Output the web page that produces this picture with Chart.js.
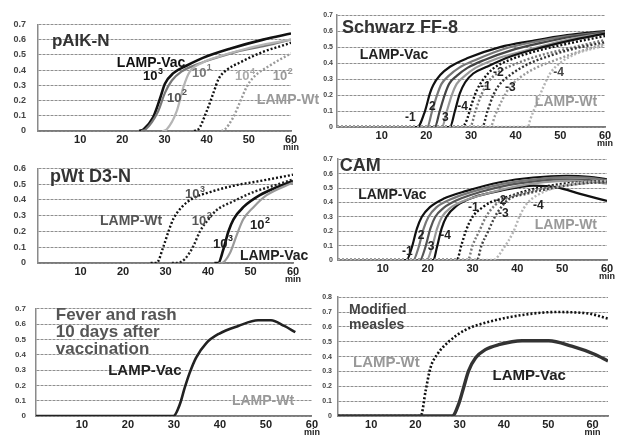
<!DOCTYPE html>
<html>
<head>
<meta charset="utf-8">
<script src="https://cdn.jsdelivr.net/npm/chart.js@4.4.0/dist/chart.umd.min.js"></script>
<style>
  body { margin: 0; background: #fff; }
  #wrap { position: relative; width: 617px; height: 439px; overflow: hidden; background: #fff; }
  canvas { position: absolute; }
</style>
</head>
<body>
<div id="wrap">
  <canvas id="p1" width="320" height="146" style="left:0;top:7px"></canvas>
  <canvas id="p2" width="312" height="145" style="left:305px;top:7px"></canvas>
  <canvas id="p3" width="320" height="139" style="left:0;top:151px"></canvas>
  <canvas id="p4" width="312" height="140" style="left:305px;top:150px"></canvas>
  <canvas id="p5" width="320" height="145" style="left:0;top:294px"></canvas>
  <canvas id="p6" width="312" height="152" style="left:305px;top:287px"></canvas>
</div>
<script>
// tick values
const xTicks = [10, 20, 30, 40, 50, 60];
const yTicks6 = [0, 0.1, 0.2, 0.3, 0.4, 0.5, 0.6];
const yTicks7 = [0, 0.1, 0.2, 0.3, 0.4, 0.5, 0.6, 0.7];
const yTicks8 = [0, 0.1, 0.2, 0.3, 0.4, 0.5, 0.6, 0.7, 0.8];

// pAIK-N  [min, turbidity]
const aikVac3 = [[24,0],[25,0.01],[27.3,0.09],[28.9,0.21],[30.1,0.31],[32.1,0.38],[35.3,0.43],[39.1,0.48],[45.5,0.54],[53.4,0.6],[60,0.64]];
const aikVac2 = [[24.5,0],[25.5,0.01],[28.5,0.13],[30.1,0.25],[31.7,0.33],[34,0.39],[37,0.43],[41,0.47],[47,0.52],[54,0.56],[60,0.6]];
const aikVac1 = [[29.5,0],[30.5,0.01],[32.9,0.13],[34.5,0.29],[36,0.39],[39.1,0.45],[43,0.49],[48,0.53],[54,0.57],[60,0.6]];
const aikWt4 = [[37,0],[38,0.01],[40,0.13],[41.6,0.25],[42.8,0.34],[44.7,0.4],[47.9,0.45],[53.4,0.52],[59,0.57],[60,0.58]];
const aikWt2 = [[43.5,0],[44.3,0.01],[46.3,0.09],[47.9,0.19],[49.5,0.29],[51,0.35],[55,0.43],[60,0.51]];

// Schwarz FF-8
const sfVac1 = [[17,0],[18,0],[19.7,0.1],[20.8,0.21],[21.5,0.26],[23.1,0.325],[25.3,0.377],[29.1,0.43],[36.5,0.5],[43.9,0.54],[51.5,0.575],[60,0.6]];
const sfVac2 = [[19,0],[20.2,0],[21.3,0.1],[22.4,0.2],[23.4,0.27],[25,0.32],[27.3,0.37],[31,0.42],[37.5,0.49],[44.5,0.535],[52,0.57],[60,0.595]];
const sfVac3 = [[21,0],[21.9,0],[23,0.1],[24.1,0.2],[25.1,0.27],[26.8,0.32],[29.2,0.37],[33,0.42],[39,0.48],[45.5,0.525],[52.5,0.565],[60,0.59]];
const sfVac4 = [[22.5,0],[23.5,0],[24.6,0.1],[25.7,0.2],[26.8,0.27],[28.6,0.32],[31,0.37],[35,0.42],[41,0.47],[47,0.515],[53,0.555],[60,0.587]];
const sfVac5 = [[24.5,0],[25.3,0],[26.4,0.1],[27.5,0.21],[28.7,0.28],[30.5,0.335],[33.5,0.377],[38.7,0.44],[46.1,0.5],[53.7,0.55],[60,0.585]];
const sfWt1 = [[0,0],[28,0],[29,0.04],[30.2,0.148],[31.3,0.23],[32.8,0.3],[35,0.367],[38.7,0.42],[43.9,0.47],[51.4,0.52],[60,0.57]];
const sfWt2 = [[0,0],[29.8,0],[31,0.1],[32.3,0.2],[33.8,0.28],[36,0.34],[39.5,0.39],[44.5,0.44],[51.5,0.49],[60,0.545]];
const sfWt3 = [[0,0],[32.5,0],[33.7,0.1],[35,0.2],[36.5,0.27],[39,0.33],[42.5,0.39],[47,0.44],[53,0.49],[60,0.53]];
const sfWt4 = [[0,0],[34.3,0],[35.5,0.08],[37,0.17],[38.7,0.25],[41,0.31],[44.5,0.37],[49,0.42],[54,0.47],[60,0.52]];
const sfWt5 = [[0,0],[42.8,0],[43.2,0.04],[44.7,0.148],[46.2,0.25],[47.7,0.335],[49.9,0.4],[53.7,0.46],[60,0.51]];

// pWt D3-N
const d3Wt3 = [[26.5,0],[27.9,0],[29.5,0.104],[30.7,0.2],[31.8,0.277],[33.8,0.354],[36.5,0.41],[40.5,0.45],[46,0.49],[52.2,0.52],[60,0.56]];
const d3Wt2 = [[31.5,0],[32.6,0],[34.6,0.027],[36.5,0.104],[38.1,0.2],[40.1,0.277],[42,0.335],[46,0.392],[50.7,0.45],[55.4,0.49],[60,0.53]];
const d3Vac3 = [[41.5,0],[42.4,0],[43.6,0.085],[44.8,0.2],[46,0.277],[48.3,0.354],[52.2,0.43],[56.2,0.48],[60,0.52]];
const d3Vac2 = [[42.5,0],[43.2,0],[45.2,0.065],[46.8,0.18],[48.3,0.277],[50.7,0.354],[53.8,0.43],[60,0.51]];

// CAM
const camVac1 = [[14.5,0],[15.3,0],[16.4,0.08],[17.6,0.218],[18.7,0.3],[20.5,0.367],[23.5,0.425],[28.7,0.48],[36.1,0.54],[43.6,0.573],[51,0.585],[56,0.578],[60,0.56]];
const camVac2 = [[16,0],[16.8,0],[17.9,0.08],[19.1,0.218],[20.2,0.3],[22,0.367],[25,0.42],[30,0.475],[37,0.53],[44,0.56],[51,0.575],[56,0.57],[60,0.555]];
const camVac3 = [[17.5,0],[18.3,0],[19.4,0.08],[20.6,0.218],[21.7,0.3],[23.5,0.36],[26.5,0.415],[31.5,0.47],[38,0.52],[45,0.55],[51,0.56],[56,0.555],[60,0.54]];
const camVac4 = [[19,0],[19.8,0],[20.9,0.08],[22.1,0.218],[23.2,0.3],[25,0.36],[28,0.41],[33,0.46],[39.5,0.51],[46,0.54],[52,0.55],[56,0.545],[60,0.53]];
const camVac5 = [[20.5,0],[21.3,0],[22,0.08],[23.1,0.218],[24.2,0.3],[26.5,0.378],[30.2,0.435],[36.1,0.48],[43.6,0.516],[48.8,0.504],[54,0.459],[60,0.41]];
const camWt1 = [[0,0],[26.5,0],[27.5,0.1],[28.5,0.2],[30,0.3],[32,0.36],[34,0.4],[37,0.43],[42,0.48],[48,0.52],[54,0.54],[60,0.55]];
const camWt2 = [[0,0],[29,0],[30,0.1],[31.5,0.2],[33,0.3],[35,0.38],[37,0.42],[42,0.47],[48,0.51],[54,0.53],[60,0.55]];
const camWt3 = [[0,0],[31,0],[32,0.1],[33.5,0.2],[35,0.3],[36.5,0.37],[38,0.42],[42,0.46],[48,0.5],[54,0.53],[60,0.54]];
const camWt4 = [[0,0],[34.6,0],[36.9,0.08],[39.1,0.195],[40.6,0.31],[42.1,0.39],[44.3,0.447],[48.8,0.505],[54.7,0.54],[60,0.55]];

// Fever and rash 10 days after vaccination
const feverVac = [[0,0],[29.9,0],[31.3,0.078],[32.3,0.18],[33.4,0.28],[34.8,0.38],[37,0.475],[39.8,0.537],[44,0.588],[48.3,0.625],[51.1,0.625],[54,0.588],[56.4,0.547]];

// Modified measles
const measWt = [[2.5,0],[21.2,0],[22.3,0.17],[23.4,0.326],[24.9,0.414],[27.5,0.5],[31.3,0.58],[36.6,0.634],[44.1,0.68],[51.6,0.7],[59.1,0.69],[63.5,0.656]];
const measVac = [[2.5,0],[28.3,0],[29.8,0.084],[30.9,0.194],[32,0.304],[33.6,0.392],[35.8,0.447],[38.8,0.48],[44.1,0.507],[50.1,0.507],[55.3,0.47],[60.6,0.414],[63.5,0.37]];

const FONT = '"Liberation Sans", Arial, sans-serif';

const notesPlugin = {
  id: 'notes',
  afterDatasetsDraw(chart, args, opts) {
    const { ctx, chartArea } = chart;
    const xs = chart.scales.x, ys = chart.scales.y;
    ctx.save();
    ctx.textBaseline = 'middle';
    ctx.textAlign = 'left';
    (opts.items || []).forEach(n => {
      const px = xs.getPixelForValue(n.x);
      const py = ys.getPixelForValue(n.y);
      ctx.fillStyle = n.color || '#222';
      ctx.font = 'bold ' + n.size + 'px ' + FONT;
      ctx.fillText(n.text, px, py);
      if (n.sup) {
        const w = ctx.measureText(n.text).width;
        ctx.font = 'bold ' + Math.round(n.size * 0.72) + 'px ' + FONT;
        ctx.fillText(n.sup, px + w + 0.5, py - n.size * 0.42);
      }
    });
    // "min" under the 60 tick
    ctx.textAlign = 'center';
    ctx.fillStyle = '#222';
    ctx.font = 'bold 9px ' + FONT;
    ctx.fillText('min', xs.getPixelForValue(60), chartArea.bottom + (opts.minOffset || 17));
    ctx.restore();
  }
};

function line(data, color, dotted, width) {
  return {
    data: data.map(p => ({ x: p[0], y: p[1] })),
    borderColor: color,
    borderWidth: width || (dotted ? 2.4 : 2.2),
    borderDash: dotted ? [2, 2] : [],
    borderCapStyle: 'butt',
    pointRadius: 0,
    fill: false,
    cubicInterpolationMode: 'monotone'
  };
}

function makePanel(id, p) {
  new Chart(document.getElementById(id), {
    type: 'line',
    data: { datasets: p.series },
    plugins: [notesPlugin],
    options: {
      responsive: false,
      animation: false,
      events: [],
      layout: { padding: { top: 8, right: p.padRight, left: 0, bottom: 0 } },
      plugins: {
        legend: { display: false },
        tooltip: { enabled: false },
        notes: { items: p.notes }
      },
      scales: {
        x: {
          type: 'linear',
          min: p.xMin,
          max: p.xMax,
          afterBuildTicks: s => { s.ticks = xTicks.filter(v => v <= p.xMax).map(v => ({ value: v })); },
          afterFit: s => { s.height = p.xHeight; },
          grid: { display: false, drawTicks: false },
          border: { display: true, color: '#7a7a7a', width: 1.8 },
          ticks: { padding: 2, maxRotation: 0, autoSkip: false, color: '#222', font: { family: FONT, size: 11, weight: 'bold' } }
        },
        y: {
          min: 0,
          max: p.yTicks[p.yTicks.length - 1],
          afterBuildTicks: s => { s.ticks = p.yTicks.map(v => ({ value: v })); },
          afterFit: s => { s.width = p.yWidth; },
          grid: { color: '#8f8f8f', lineWidth: 1, drawTicks: false },
          border: { display: true, color: '#8a8a8a', width: 1.5, dash: [3, 1] },
          ticks: {
            padding: p.yPad,
            color: '#444',
            font: { family: FONT, size: p.ySize, weight: 'bold' },
            callback: v => (v === 0 ? '0' : v.toFixed(1))
          }
        }
      }
    }
  });
}

const gray = '#9a9a9a', mid = '#777', light = '#b5b5b5', dark = '#222';

makePanel('p1', {
  xMin: 0, xMax: 60, yTicks: yTicks7, yWidth: 38, yPad: 12, ySize: 9, xHeight: 22, padRight: 29,
  series: [
    line(aikVac1, light), line(aikVac2, mid), line(aikVac3, '#111', false, 2.6),
    line(aikWt2, gray, true), line(aikWt4, '#111', true)
  ],
  notes: [
    { text: 'pAIK-N', x: 3.3, y: 0.59, size: 17, color: '#333' },
    { text: 'LAMP-Vac', x: 18.7, y: 0.447, size: 14, color: '#111' },
    { text: '10', sup: '3', x: 24.9, y: 0.356, size: 13, color: '#111' },
    { text: '10', sup: '2', x: 30.6, y: 0.217, size: 13, color: '#555' },
    { text: '10', sup: '1', x: 36.5, y: 0.38, size: 13, color: '#777' },
    { text: '10', sup: '4', x: 46.7, y: 0.356, size: 13, color: '#aaa' },
    { text: '10', sup: '2', x: 55.7, y: 0.356, size: 13, color: '#999' },
    { text: 'LAMP-Wt', x: 51.9, y: 0.2, size: 14, color: '#999' }
  ]
});

makePanel('p2', {
  xMin: 0, xMax: 60, yTicks: yTicks7, yWidth: 32, yPad: 4, ySize: 7, xHeight: 25, padRight: 12,
  series: [
    line(sfWt5, light, true), line(sfWt4, gray, true), line(sfWt3, '#333', true), line(sfWt2, mid, true), line(sfWt1, '#111', true),
    line(sfVac5, '#111'), line(sfVac4, gray), line(sfVac3, '#444'), line(sfVac2, mid), line(sfVac1, '#111')
  ],
  notes: [
    { text: 'Schwarz FF-8', x: 1.1, y: 0.62, size: 18, color: '#333' },
    { text: 'LAMP-Vac', x: 5.1, y: 0.45, size: 14, color: '#222' },
    { text: '-1', x: 15.2, y: 0.06, size: 12, color: dark },
    { text: '2', x: 20.6, y: 0.125, size: 12, color: dark },
    { text: '3', x: 23.5, y: 0.06, size: 12, color: dark },
    { text: '-4', x: 26.9, y: 0.125, size: 12, color: dark },
    { text: '-1', x: 32, y: 0.25, size: 12, color: dark },
    { text: '-2', x: 34.9, y: 0.34, size: 12, color: dark },
    { text: '-3', x: 37.6, y: 0.245, size: 12, color: dark },
    { text: '-4', x: 48.4, y: 0.34, size: 12, color: '#444' },
    { text: 'LAMP-Wt', x: 44.3, y: 0.156, size: 14, color: '#999' }
  ]
});

makePanel('p3', {
  xMin: 0, xMax: 60, yTicks: yTicks6, yWidth: 38, yPad: 12, ySize: 9, xHeight: 27, padRight: 27,
  series: [
    line(d3Wt2, '#222', true), line(d3Wt3, '#111', true),
    line(d3Vac2, gray), line(d3Vac3, '#111', false, 2.6)
  ],
  notes: [
    { text: 'pWt D3-N', x: 2.8, y: 0.548, size: 18, color: '#333' },
    { text: 'LAMP-Wt', x: 14.6, y: 0.265, size: 14, color: '#555' },
    { text: '10', sup: '3', x: 34.6, y: 0.433, size: 13, color: '#555' },
    { text: '10', sup: '2', x: 36.2, y: 0.265, size: 13, color: '#555' },
    { text: '10', sup: '2', x: 49.9, y: 0.237, size: 13, color: '#222' },
    { text: '10', sup: '3', x: 41.2, y: 0.12, size: 13, color: '#222' },
    { text: 'LAMP-Vac', x: 47.5, y: 0.046, size: 14, color: '#222' }
  ]
});

makePanel('p4', {
  xMin: 0, xMax: 60, yTicks: yTicks7, yWidth: 33, yPad: 5, ySize: 7, xHeight: 30, padRight: 10,
  series: [
    line(camWt4, light, true), line(camWt3, '#444', true), line(camWt2, mid, true), line(camWt1, '#111', true),
    line(camVac4, gray), line(camVac3, '#555'), line(camVac2, mid), line(camVac1, '#111'), line(camVac5, '#111')
  ],
  notes: [
    { text: 'CAM', x: 0.4, y: 0.654, size: 18, color: '#333' },
    { text: 'LAMP-Vac', x: 4.5, y: 0.447, size: 14, color: '#222' },
    { text: '-1', x: 14.3, y: 0.055, size: 12, color: dark },
    { text: '2', x: 17.8, y: 0.172, size: 12, color: dark },
    { text: '3', x: 20, y: 0.09, size: 12, color: dark },
    { text: '-4', x: 22.8, y: 0.172, size: 12, color: dark },
    { text: '-1', x: 29, y: 0.365, size: 12, color: dark },
    { text: '-2', x: 35.2, y: 0.41, size: 12, color: dark },
    { text: '-3', x: 35.7, y: 0.323, size: 12, color: dark },
    { text: '-4', x: 43.5, y: 0.378, size: 12, color: dark },
    { text: 'LAMP-Wt', x: 43.9, y: 0.24, size: 14, color: '#999' }
  ]
});

makePanel('p5', {
  xMin: 0, xMax: 60, yTicks: yTicks7, yWidth: 36, yPad: 10, ySize: 8, xHeight: 23, padRight: 8,
  series: [line(feverVac, '#222', false, 2.6)],
  notes: [
    { text: 'Fever and rash', x: 4.3, y: 0.66, size: 17, color: '#555' },
    { text: '10 days after', x: 4.3, y: 0.545, size: 17, color: '#555' },
    { text: 'vaccination', x: 4.3, y: 0.435, size: 17, color: '#555' },
    { text: 'LAMP-Vac', x: 15.7, y: 0.294, size: 15, color: '#222' },
    { text: 'LAMP-Wt', x: 42.6, y: 0.098, size: 14, color: '#999' }
  ]
});

makePanel('p6', {
  xMin: 2.5, xMax: 63.5, yTicks: yTicks8, yWidth: 33, yPad: 6, ySize: 7, xHeight: 23, padRight: 9,
  series: [line(measVac, '#333', false, 3.4), line(measWt, '#111', true, 2.6)],
  notes: [
    { text: 'Modified', x: 5, y: 0.714, size: 14, color: '#444' },
    { text: 'measles', x: 5, y: 0.615, size: 14, color: '#444' },
    { text: 'LAMP-Wt', x: 5.9, y: 0.357, size: 15, color: '#999' },
    { text: 'LAMP-Vac', x: 37.4, y: 0.27, size: 15, color: '#222' }
  ]
});
</script>
</body>
</html>
